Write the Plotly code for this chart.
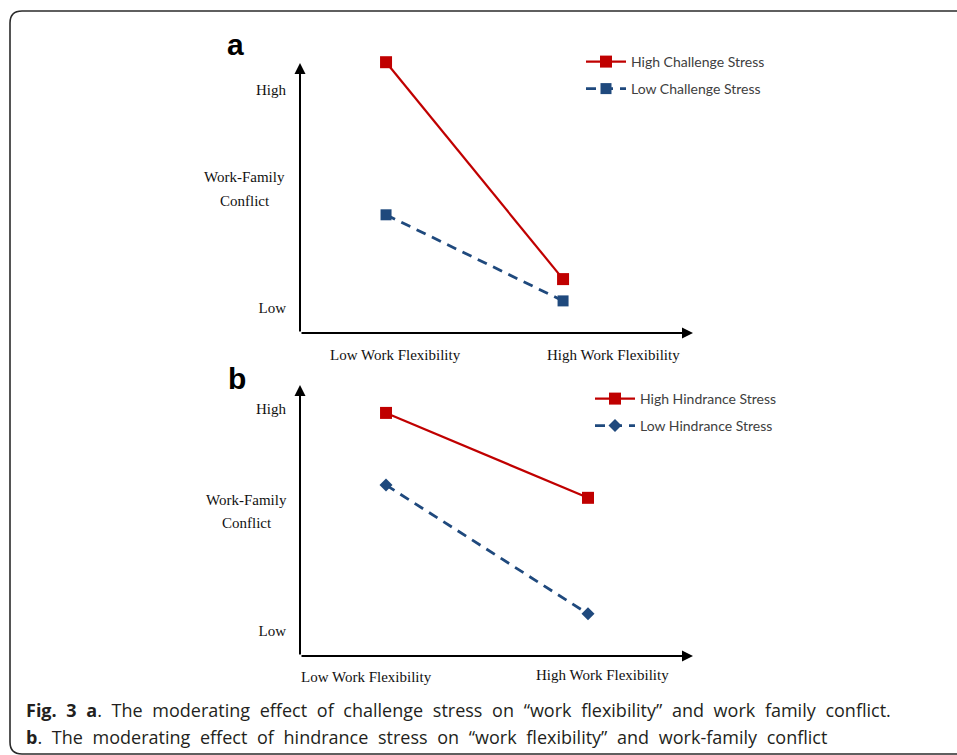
import plotly.graph_objects as go

W, H = 957, 755

# ---- data ----
flex_levels = [0, 1]  # 0 = Low Work Flexibility, 1 = High Work Flexibility
flex_labels = ["Low Work Flexibility", "High Work Flexibility"]
conflict_ticks = [1, 5]
conflict_ticktext = ["Low", "High"]

a_high_challenge = [5.51, 1.53]
a_low_challenge = [2.71, 1.13]
b_high_hindrance = [4.93, 3.40]
b_low_hindrance = [3.63, 1.31]

RED = "#C00000"
BLUE = "#1F497D"
SERIF = "Liberation Serif, Times New Roman, serif"
LEG_FONT = "Lato, Carlito, Calibri, sans-serif"


def px_x(p):
    return p / W


def px_y(p):
    return 1 - p / H


fig = go.Figure()

fig.add_trace(go.Scatter(x=flex_levels, y=a_high_challenge, mode="lines+markers",
                         name="High Challenge Stress", xaxis="x", yaxis="y",
                         line=dict(color=RED, width=2.2),
                         marker=dict(symbol="square", size=12, color=RED),
                         legend="legend", cliponaxis=False))
fig.add_trace(go.Scatter(x=flex_levels, y=a_low_challenge, mode="lines+markers",
                         name="Low Challenge Stress", xaxis="x", yaxis="y",
                         line=dict(color=BLUE, width=2.8, dash="10px,7px"),
                         marker=dict(symbol="square", size=11, color=BLUE),
                         legend="legend2", cliponaxis=False))
fig.add_trace(go.Scatter(x=flex_levels, y=b_high_hindrance, mode="lines+markers",
                         name="High Hindrance Stress", xaxis="x2", yaxis="y2",
                         line=dict(color=RED, width=2.2),
                         marker=dict(symbol="square", size=12, color=RED),
                         legend="legend3", cliponaxis=False))
fig.add_trace(go.Scatter(x=flex_levels, y=b_low_hindrance, mode="lines+markers",
                         name="Low Hindrance Stress", xaxis="x2", yaxis="y2",
                         line=dict(color=BLUE, width=2.8, dash="10px,7px"),
                         marker=dict(symbol="diamond", size=10, color=BLUE),
                         legend="legend4", cliponaxis=False))

xr_a = [-0.486, 1.734]
yr_a = [0.541, 5.734]
ytip_a = 5.495
xr_b = [-0.426, 1.520]
yr_b = [0.550, 5.613]
ytip_b = 5.432

axis_common = dict(showgrid=False, zeroline=False, showline=False, fixedrange=True)
tickfont = dict(family=SERIF, size=15, color="#111")

layout = dict(
    width=W, height=H, autosize=False,
    margin=dict(l=0, r=0, t=0, b=0),
    paper_bgcolor="white", plot_bgcolor="rgba(0,0,0,0)",
    xaxis=dict(domain=[px_x(300), px_x(693)], range=xr_a, anchor="y",
               showticklabels=False, **axis_common),
    yaxis=dict(domain=[px_y(333), px_y(50)], range=yr_a, anchor="x",
               tickvals=conflict_ticks, ticktext=conflict_ticktext,
               ticks="outside", ticklen=10, tickcolor="rgba(0,0,0,0)",
               tickfont=tickfont, **axis_common),
    xaxis2=dict(domain=[px_x(300), px_x(693)], range=xr_b, anchor="y2",
                showticklabels=False, **axis_common),
    yaxis2=dict(domain=[px_y(656), px_y(375)], range=yr_b, anchor="x2",
                tickvals=conflict_ticks, ticktext=conflict_ticktext,
                ticks="outside", ticklen=10, tickcolor="rgba(0,0,0,0)",
                tickfont=tickfont, **axis_common),
    showlegend=True,
)

leg_pos = {"legend": (581, 62), "legend2": (581, 89), "legend3": (590, 399), "legend4": (590, 426)}
for k, (lx, ly) in leg_pos.items():
    layout[k] = dict(x=px_x(lx), y=px_y(ly), xanchor="left", yanchor="middle",
                     bgcolor="rgba(0,0,0,0)", borderwidth=0, itemwidth=40,
                     font=dict(family=LEG_FONT, size=14, color="#404040"))

fig.update_layout(**layout)

ann = []
# axis arrows
for xa, ya, xr, yr, ytip in [("x", "y", xr_a, yr_a, ytip_a), ("x2", "y2", xr_b, yr_b, ytip_b)]:
    ann.append(dict(x=xr[1], y=yr[0], ax=xr[0], ay=yr[0], xref=xa, yref=ya, axref=xa, ayref=ya,
                    text="", showarrow=True, arrowhead=2, arrowsize=1.1, arrowwidth=2,
                    arrowcolor="black", standoff=0, startstandoff=0))
    ann.append(dict(x=xr[0], y=ytip, ax=xr[0], ay=yr[0], xref=xa, yref=ya, axref=xa, ayref=ya,
                    text="", showarrow=True, arrowhead=2, arrowsize=1.1, arrowwidth=2,
                    arrowcolor="black", standoff=0, startstandoff=0))


def text_ann(cx, cy, t, font, xanchor="center"):
    return dict(x=px_x(cx), y=px_y(cy), xref="paper", yref="paper", text=t,
                xanchor=xanchor, yanchor="middle", showarrow=False, font=font)


# y-axis titles
ann.append(text_ann(245, 177, "Work-Family", tickfont))
ann.append(text_ann(245, 201, "Conflict", tickfont))
ann.append(text_ann(247, 500, "Work-Family", tickfont))
ann.append(text_ann(247, 523, "Conflict", tickfont))

# x category labels
for cx, cy, t in [(395, 355, flex_labels[0]), (613, 355, flex_labels[1]),
                  (366, 677, flex_labels[0]), (602, 675, flex_labels[1])]:
    ann.append(text_ann(cx, cy, t, tickfont))

# panel letters
letter_font = dict(family="Liberation Sans, Arial, sans-serif", size=30, color="black")
ann.append(text_ann(235, 45, "<b>a</b>", letter_font))
ann.append(text_ann(237, 378, "<b>b</b>", letter_font))

# caption
cap_font = dict(family="Open Sans, Noto Sans, sans-serif", size=18, color="#231f20")
ann.append(text_ann(24, 710,
                    "<span style='word-spacing:5px'><b>Fig. 3 a</b>. The moderating effect of challenge stress on "
                    "\u201cwork flexibility\u201d and work family conflict.</span>",
                    cap_font, xanchor="left"))
ann.append(text_ann(24, 737,
                    "<span style='word-spacing:5px'><b>b</b>. The moderating effect of hindrance stress on "
                    "\u201cwork flexibility\u201d and work-family conflict</span>",
                    cap_font, xanchor="left"))

fig.update_layout(annotations=ann)

# rounded border box
x0, y0, r = px_x(10), px_y(11), 12
path = (f"M {px_x(960)},{y0} L {px_x(10 + r)},{y0} Q {x0},{y0} {x0},{px_y(11 + r)} "
        f"L {x0},{px_y(754 - r)} Q {x0},{px_y(754)} {px_x(10 + r)},{px_y(754)} L {px_x(960)},{px_y(754)}")
fig.add_shape(type="path", path=path, xref="paper", yref="paper",
              line=dict(color="#2b2b2b", width=1.6))

fig.write_html("out.html", config={"displayModeBar": False},
               post_script="document.body.style.margin='0px';")
